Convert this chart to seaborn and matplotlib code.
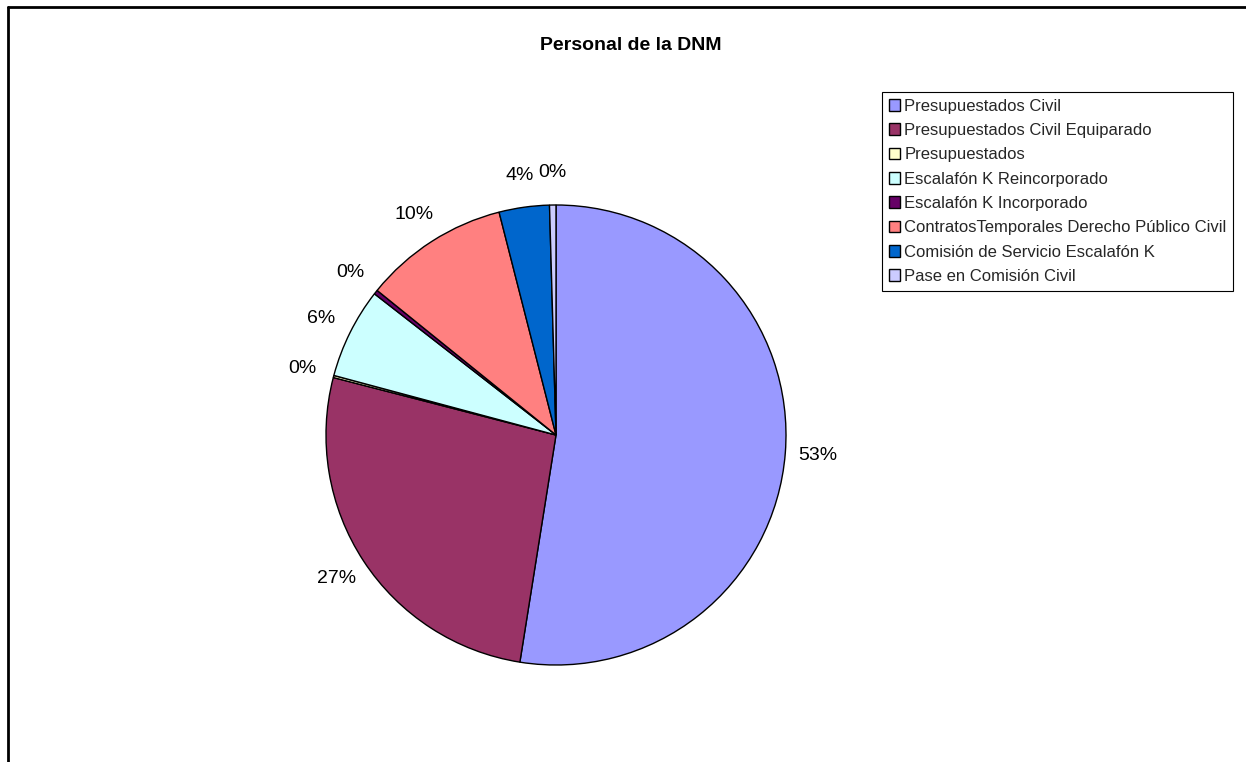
import matplotlib
matplotlib.use("Agg")
import matplotlib.pyplot as plt
from matplotlib.lines import Line2D
import numpy as np
import seaborn as sns

# Staff composition (percent of total)
categories = [
    "Presupuestados Civil",
    "Presupuestados Civil Equiparado",
    "Presupuestados",
    "Escalafón K Reincorporado",
    "Escalafón K Incorporado",
    "ContratosTemporales Derecho Público Civil",
    "Comisión de Servicio Escalafón K",
    "Pase en Comisión Civil",
]
shares = [52.51, 26.51, 0.15, 6.35, 0.3, 10.2, 3.53, 0.45]
slice_colors = ["#9999FF", "#993366", "#FFFFCC", "#CCFFFF",
                "#660066", "#FF8080", "#0066CC", "#CCCCFF"]
title = "Personal de la DNM"

sns.set_theme(style="white")
plt.rcParams["font.family"] = ["Liberation Sans", "DejaVu Sans"]

W, H = 1246, 762
fig = plt.figure(figsize=(W / 100, H / 100), dpi=100)
fig.patch.set_facecolor("white")

# square axes centred on the pie
cx, cy, r = 556, 435, 230
lim = 1.3
half = r * lim
ax = fig.add_axes([(cx - half) / W, (H - cy - half) / H, 2 * half / W, 2 * half / H])

palette = sns.color_palette(slice_colors)
wedges = ax.pie(
    shares,
    colors=palette,
    startangle=90,
    counterclock=False,
    wedgeprops=dict(edgecolor="black", linewidth=1.0),
)[0]

# percentage labels just outside each wedge
total = sum(shares)
acc = 0.0
for v in shares:
    mid = (acc + v / 2) / total * 360.0
    acc += v
    ang = np.deg2rad(90 - mid)
    d = 1.14
    ax.text(d * np.cos(ang), d * np.sin(ang), f"{v / total * 100:.0f}%",
            ha="center", va="center", fontsize=14, color="black")

ax.set_xlim(-lim, lim)
ax.set_ylim(-lim, lim)
ax.set_aspect("equal")
ax.axis("off")

fig.text(631 / W, 1 - 46 / H, title, ha="center", va="center",
         fontsize=14, fontweight="bold", color="black")

leg = fig.legend(
    wedges, categories,
    loc="upper left",
    bbox_to_anchor=(882 / W, 1 - 92 / H),
    bbox_transform=fig.transFigure,
    borderaxespad=0,
    fontsize=12,
    frameon=True,
    fancybox=False,
    framealpha=1,
    edgecolor="black",
    handlelength=0.7,
    handleheight=0.7,
    handletextpad=0.25,
    labelspacing=0.56,
    borderpad=0.4,
)
leg.get_frame().set_linewidth(0.8)

# outer chart-area border (top and left edges)
fig.add_artist(Line2D([8 / W, 1.0], [1 - 7 / H, 1 - 7 / H],
                      transform=fig.transFigure, color="black", linewidth=2))
fig.add_artist(Line2D([8 / W, 8 / W], [1 - 7 / H, 0.0],
                      transform=fig.transFigure, color="black", linewidth=2))

fig.savefig("out.png", dpi=100, facecolor="white")
